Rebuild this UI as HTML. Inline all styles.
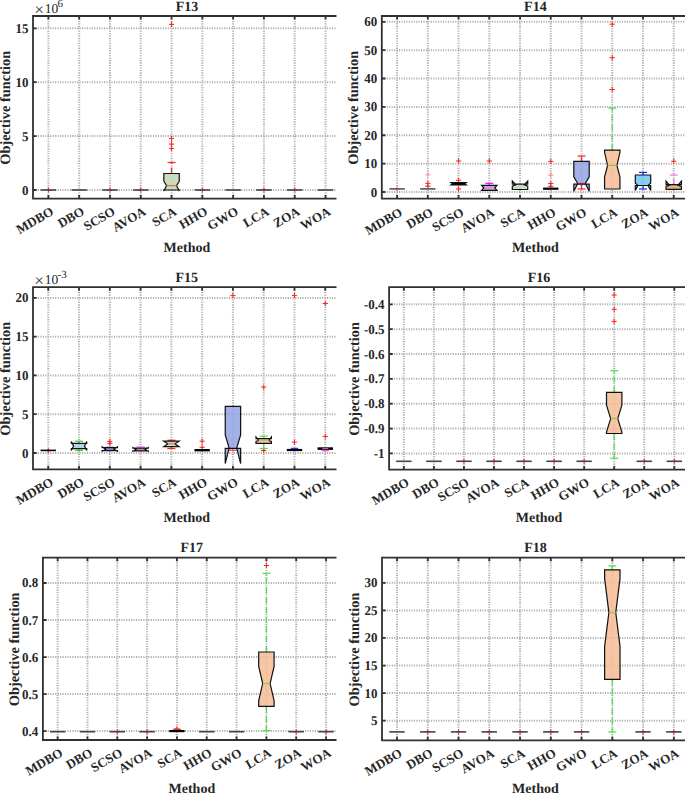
<!DOCTYPE html>
<html><head><meta charset="utf-8"><style>
html,body{margin:0;padding:0;background:#fff;}
svg{display:block;}
text{font-family:"Liberation Serif", serif;fill:#262626;text-rendering:geometricPrecision;}
</style></head><body>
<svg width="685" height="793" viewBox="0 0 685 793">
<rect width="685" height="793" fill="#fff"/>
<path d="M48.4 16V198.6M79.19 16V198.6M109.98 16V198.6M140.77 16V198.6M171.56 16V198.6M202.35 16V198.6M233.14 16V198.6M263.93 16V198.6M294.72 16V198.6M325.51 16V198.6M33 190H335.6M33 136.1H335.6M33 82.2H335.6M33 28.3H335.6" stroke="#acacac" stroke-width="2" stroke-dasharray="1.1 1.35" fill="none"/>
<path d="M45.8 190H51M48.4 187.4V192.6" stroke="#ff2020" stroke-width="1.0" fill="none"/>
<path d="M40.7 190H56.1" stroke="#454545" stroke-width="1.6" fill="none"/>
<path d="M71.49 190H86.89" stroke="#454545" stroke-width="1.6" fill="none"/>
<path d="M107.38 190H112.58M109.98 187.4V192.6" stroke="#ff2020" stroke-width="1.0" fill="none"/>
<path d="M102.28 190H117.68" stroke="#454545" stroke-width="1.6" fill="none"/>
<path d="M138.17 190H143.37M140.77 187.4V192.6" stroke="#ff2020" stroke-width="1.0" fill="none"/>
<path d="M133.07 190H148.47" stroke="#454545" stroke-width="1.6" fill="none"/>
<path d="M168.96 148.4H174.16M171.56 145.8V151" stroke="#ff2020" stroke-width="1.0" fill="none"/>
<path d="M168.96 144.1H174.16M171.56 141.5V146.7" stroke="#ff2020" stroke-width="1.0" fill="none"/>
<path d="M168.96 138.4H174.16M171.56 135.8V141" stroke="#ff2020" stroke-width="1.0" fill="none"/>
<path d="M168.96 24.4H174.16M171.56 21.8V27" stroke="#ff2020" stroke-width="1.0" fill="none"/>
<path d="M171.56 173.5V162.5" stroke="#ff2020" stroke-width="1.2" stroke-dasharray="6 3.7" fill="none"/>
<path d="M167.56 162.5H175.56" stroke="#ff2020" stroke-width="1.2" fill="none"/>
<path d="M163.86 190L163.86 190.9L166.56 185.6L163.86 181.2L163.86 173.5L179.26 173.5L179.26 181.2L176.56 185.6L179.26 190.9L179.26 190Z" fill="#bdd9b3" fill-opacity="0.85" stroke="#111" stroke-width="1.2" stroke-linejoin="miter"/>
<path d="M166.56 185.6H176.56" stroke="#e07040" stroke-width="1.2" fill="none"/>
<path d="M199.75 190H204.95M202.35 187.4V192.6" stroke="#ff2020" stroke-width="1.0" fill="none"/>
<path d="M194.65 190H210.05" stroke="#454545" stroke-width="1.6" fill="none"/>
<path d="M225.44 190H240.84" stroke="#454545" stroke-width="1.6" fill="none"/>
<path d="M261.33 190H266.53M263.93 187.4V192.6" stroke="#ff2020" stroke-width="1.0" fill="none"/>
<path d="M256.23 190H271.63" stroke="#454545" stroke-width="1.6" fill="none"/>
<path d="M292.12 190H297.32M294.72 187.4V192.6" stroke="#ff2020" stroke-width="1.0" fill="none"/>
<path d="M287.02 190H302.42" stroke="#454545" stroke-width="1.6" fill="none"/>
<path d="M317.81 190H333.21" stroke="#454545" stroke-width="1.6" fill="none"/>
<path d="M335.6 16H33V198.6H335.6" stroke="#303030" stroke-width="1.8" fill="none" stroke-linecap="square"/>
<path d="M48.4 16v3.6M48.4 198.6v-3.6M79.19 16v3.6M79.19 198.6v-3.6M109.98 16v3.6M109.98 198.6v-3.6M140.77 16v3.6M140.77 198.6v-3.6M171.56 16v3.6M171.56 198.6v-3.6M202.35 16v3.6M202.35 198.6v-3.6M233.14 16v3.6M233.14 198.6v-3.6M263.93 16v3.6M263.93 198.6v-3.6M294.72 16v3.6M294.72 198.6v-3.6M325.51 16v3.6M325.51 198.6v-3.6M33 190h3.6M33 136.1h3.6M33 82.2h3.6M33 28.3h3.6" stroke="#303030" stroke-width="1.8" fill="none"/>
<text transform="translate(28.4 194.5) scale(0.96 1)" text-anchor="end" font-size="13.5" font-weight="bold">0</text>
<text transform="translate(28.4 140.6) scale(0.96 1)" text-anchor="end" font-size="13.5" font-weight="bold">5</text>
<text transform="translate(28.4 86.7) scale(0.96 1)" text-anchor="end" font-size="13.5" font-weight="bold">10</text>
<text transform="translate(28.4 32.8) scale(0.96 1)" text-anchor="end" font-size="13.5" font-weight="bold">15</text>
<text x="186.96" y="10.6" text-anchor="middle" font-size="14" font-weight="bold">F13</text>
<text x="34.6" y="14.6" font-size="16.5">×</text>
<text x="44.7" y="12.8" font-size="13.5">10</text>
<text x="57.6" y="6.6" font-size="11">6</text>
<text transform="translate(9.8 107.8) rotate(-90)" text-anchor="middle" font-size="14.4" font-weight="bold">Objective function</text>
<text transform="translate(54.5 214) rotate(-30)" text-anchor="end" font-size="13" font-weight="bold">MDBO</text>
<text transform="translate(85.29 214) rotate(-30)" text-anchor="end" font-size="13" font-weight="bold">DBO</text>
<text transform="translate(116.08 214) rotate(-30)" text-anchor="end" font-size="13" font-weight="bold">SCSO</text>
<text transform="translate(146.87 214) rotate(-30)" text-anchor="end" font-size="13" font-weight="bold">AVOA</text>
<text transform="translate(177.66 214) rotate(-30)" text-anchor="end" font-size="13" font-weight="bold">SCA</text>
<text transform="translate(208.45 214) rotate(-30)" text-anchor="end" font-size="13" font-weight="bold">HHO</text>
<text transform="translate(239.24 214) rotate(-30)" text-anchor="end" font-size="13" font-weight="bold">GWO</text>
<text transform="translate(270.03 214) rotate(-30)" text-anchor="end" font-size="13" font-weight="bold">LCA</text>
<text transform="translate(300.82 214) rotate(-30)" text-anchor="end" font-size="13" font-weight="bold">ZOA</text>
<text transform="translate(331.61 214) rotate(-30)" text-anchor="end" font-size="13" font-weight="bold">WOA</text>
<text x="186.96" y="252" text-anchor="middle" font-size="14" font-weight="bold">Method</text>
<path d="M397.07 16V198.6M427.81 16V198.6M458.55 16V198.6M489.29 16V198.6M520.03 16V198.6M550.77 16V198.6M581.51 16V198.6M612.25 16V198.6M642.99 16V198.6M673.73 16V198.6M381.8 192H685M381.8 163.63H685M381.8 135.26H685M381.8 106.89H685M381.8 78.52H685M381.8 50.15H685M381.8 21.78H685" stroke="#acacac" stroke-width="2" stroke-dasharray="1.1 1.35" fill="none"/>
<path d="M394.47 188.9H399.67M397.07 186.3V191.5" stroke="#ff8080" stroke-width="1.0" fill="none"/>
<path d="M389.37 188.9H404.77" stroke="#555" stroke-width="1.6" fill="none"/>
<path d="M425.21 183.3H430.41M427.81 180.7V185.9" stroke="#ff2020" stroke-width="1.0" fill="none"/>
<path d="M425.21 186.2H430.41M427.81 183.6V188.8" stroke="#ff2020" stroke-width="1.0" fill="none"/>
<path d="M420.11 188.9H435.51" stroke="#555" stroke-width="1.6" fill="none"/>
<path d="M425.21 174.9H430.41M427.81 172.3V177.5" stroke="#ff9a9a" stroke-width="1.0" fill="none"/>
<path d="M455.95 161H461.15M458.55 158.4V163.6" stroke="#ff2020" stroke-width="1.0" fill="none"/>
<path d="M455.95 180.3H461.15M458.55 177.7V182.9" stroke="#ff2020" stroke-width="1.0" fill="none"/>
<path d="M455.95 189H461.15M458.55 186.4V191.6" stroke="#ff2020" stroke-width="1.0" fill="none"/>
<path d="M450.85 185L450.85 185L452.55 183.8L450.85 182.5L450.85 182.5L466.25 182.5L466.25 182.5L464.55 183.8L466.25 185L466.25 185Z" fill="#000" fill-opacity="1" stroke="#111" stroke-width="1.2" stroke-linejoin="miter"/>
<path d="M486.69 161H491.89M489.29 158.4V163.6" stroke="#ff2020" stroke-width="1.0" fill="none"/>
<path d="M489.29 185.3V183.3" stroke="#ff00ff" stroke-width="1.2" stroke-dasharray="6 3.7" fill="none"/>
<path d="M485.29 183.3H493.29" stroke="#ff00ff" stroke-width="1.2" fill="none"/>
<path d="M481.59 190.4L481.59 190.4L483.79 187.8L481.59 185.3L481.59 185.3L496.99 185.3L496.99 185.3L494.79 187.8L496.99 190.4L496.99 190.4Z" fill="#c890d8" fill-opacity="0.85" stroke="#111" stroke-width="1.2" stroke-linejoin="miter"/>
<path d="M512.33 189.5L512.33 186.2L515.83 184.8L512.33 181.1L512.33 184.2L527.73 184.2L527.73 181.1L524.23 184.8L527.73 186.2L527.73 189.5Z" fill="#bdd9b3" fill-opacity="0.85" stroke="#111" stroke-width="1.2" stroke-linejoin="miter"/>
<path d="M548.17 161.4H553.37M550.77 158.8V164" stroke="#ff2020" stroke-width="1.0" fill="none"/>
<path d="M548.17 183.5H553.37M550.77 180.9V186.1" stroke="#ff2020" stroke-width="1.0" fill="none"/>
<path d="M548.17 186.4H553.37M550.77 183.8V189" stroke="#ff2020" stroke-width="1.0" fill="none"/>
<path d="M543.07 188.7H558.47" stroke="#000" stroke-width="2.2" fill="none"/>
<path d="M548.17 175.2H553.37M550.77 172.6V177.8" stroke="#ff8a8a" stroke-width="1.0" fill="none"/>
<path d="M581.51 161.3V156" stroke="#ff2020" stroke-width="1.2" stroke-dasharray="6 3.7" fill="none"/>
<path d="M577.51 156H585.51" stroke="#ff2020" stroke-width="1.2" fill="none"/>
<path d="M581.51 184.2V189" stroke="#ff2020" stroke-width="1.2" stroke-dasharray="6 3.7" fill="none"/>
<path d="M577.51 189H585.51" stroke="#ff2020" stroke-width="1.2" fill="none"/>
<path d="M573.81 184.2L573.81 191.2L577.71 183.5L573.81 176.8L573.81 161.3L589.21 161.3L589.21 176.8L585.31 183.5L589.21 191.2L589.21 184.2Z" fill="#92a4e2" fill-opacity="0.85" stroke="#111" stroke-width="1.2" stroke-linejoin="miter"/>
<path d="M577.71 183.5H585.31" stroke="#7e2f5e" stroke-width="1.2" fill="none"/>
<path d="M609.65 24.2H614.85M612.25 21.6V26.8" stroke="#ff2020" stroke-width="1.0" fill="none"/>
<path d="M609.65 57.7H614.85M612.25 55.1V60.3" stroke="#ff2020" stroke-width="1.0" fill="none"/>
<path d="M609.65 89.5H614.85M612.25 86.9V92.1" stroke="#ff2020" stroke-width="1.0" fill="none"/>
<path d="M612.25 150.1V108.1" stroke="#48e048" stroke-width="1.2" stroke-dasharray="6 3.7" fill="none"/>
<path d="M608.25 108.1H616.25" stroke="#48e048" stroke-width="1.2" fill="none"/>
<path d="M604.55 189L604.55 177.2L607.55 165.4L604.55 152.3L604.55 150.1L619.95 150.1L619.95 152.3L616.95 165.4L619.95 177.2L619.95 189Z" fill="#f6bc95" fill-opacity="0.85" stroke="#111" stroke-width="1.2" stroke-linejoin="miter"/>
<path d="M607.55 165.4H616.95" stroke="#a0c040" stroke-width="1.2" fill="none"/>
<path d="M642.99 175V172.4" stroke="#2020ff" stroke-width="1.2" stroke-dasharray="6 3.7" fill="none"/>
<path d="M638.99 172.4H646.99" stroke="#2020ff" stroke-width="1.2" fill="none"/>
<path d="M642.99 185.5V189" stroke="#2020ff" stroke-width="1.2" stroke-dasharray="6 3.7" fill="none"/>
<path d="M638.99 189H646.99" stroke="#2020ff" stroke-width="1.2" fill="none"/>
<path d="M635.29 185.5L635.29 190.4L637.89 185.5L635.29 182.9L635.29 175L650.69 175L650.69 182.9L648.09 185.5L650.69 190.4L650.69 185.5Z" fill="#6dc6f1" fill-opacity="0.85" stroke="#111" stroke-width="1.2" stroke-linejoin="miter"/>
<path d="M671.13 161.3H676.33M673.73 158.7V163.9" stroke="#ff2020" stroke-width="1.0" fill="none"/>
<path d="M673.73 184.6V175" stroke="#f070f0" stroke-width="1.2" stroke-dasharray="6 3.7" fill="none"/>
<path d="M669.73 175H677.73" stroke="#f070f0" stroke-width="1.2" fill="none"/>
<path d="M666.03 189.3L666.03 186.4L669.53 185.2L666.03 181.2L666.03 184.6L681.43 184.6L681.43 181.2L677.93 185.2L681.43 186.4L681.43 189.3Z" fill="#dea170" fill-opacity="0.85" stroke="#111" stroke-width="1.2" stroke-linejoin="miter"/>
<path d="M685 16H381.8V198.6H685" stroke="#303030" stroke-width="1.8" fill="none" stroke-linecap="square"/>
<path d="M397.07 16v3.6M397.07 198.6v-3.6M427.81 16v3.6M427.81 198.6v-3.6M458.55 16v3.6M458.55 198.6v-3.6M489.29 16v3.6M489.29 198.6v-3.6M520.03 16v3.6M520.03 198.6v-3.6M550.77 16v3.6M550.77 198.6v-3.6M581.51 16v3.6M581.51 198.6v-3.6M612.25 16v3.6M612.25 198.6v-3.6M642.99 16v3.6M642.99 198.6v-3.6M673.73 16v3.6M673.73 198.6v-3.6M381.8 192h3.6M381.8 163.63h3.6M381.8 135.26h3.6M381.8 106.89h3.6M381.8 78.52h3.6M381.8 50.15h3.6M381.8 21.78h3.6" stroke="#303030" stroke-width="1.8" fill="none"/>
<text transform="translate(377.2 196.5) scale(0.96 1)" text-anchor="end" font-size="13.5" font-weight="bold">0</text>
<text transform="translate(377.2 168.13) scale(0.96 1)" text-anchor="end" font-size="13.5" font-weight="bold">10</text>
<text transform="translate(377.2 139.76) scale(0.96 1)" text-anchor="end" font-size="13.5" font-weight="bold">20</text>
<text transform="translate(377.2 111.39) scale(0.96 1)" text-anchor="end" font-size="13.5" font-weight="bold">30</text>
<text transform="translate(377.2 83.02) scale(0.96 1)" text-anchor="end" font-size="13.5" font-weight="bold">40</text>
<text transform="translate(377.2 54.65) scale(0.96 1)" text-anchor="end" font-size="13.5" font-weight="bold">50</text>
<text transform="translate(377.2 26.28) scale(0.96 1)" text-anchor="end" font-size="13.5" font-weight="bold">60</text>
<text x="535.4" y="10.6" text-anchor="middle" font-size="14" font-weight="bold">F14</text>
<text transform="translate(358.1 107.8) rotate(-90)" text-anchor="middle" font-size="14.4" font-weight="bold">Objective function</text>
<text transform="translate(403.17 214.9) rotate(-30)" text-anchor="end" font-size="13" font-weight="bold">MDBO</text>
<text transform="translate(433.91 214.9) rotate(-30)" text-anchor="end" font-size="13" font-weight="bold">DBO</text>
<text transform="translate(464.65 214.9) rotate(-30)" text-anchor="end" font-size="13" font-weight="bold">SCSO</text>
<text transform="translate(495.39 214.9) rotate(-30)" text-anchor="end" font-size="13" font-weight="bold">AVOA</text>
<text transform="translate(526.13 214.9) rotate(-30)" text-anchor="end" font-size="13" font-weight="bold">SCA</text>
<text transform="translate(556.87 214.9) rotate(-30)" text-anchor="end" font-size="13" font-weight="bold">HHO</text>
<text transform="translate(587.61 214.9) rotate(-30)" text-anchor="end" font-size="13" font-weight="bold">GWO</text>
<text transform="translate(618.35 214.9) rotate(-30)" text-anchor="end" font-size="13" font-weight="bold">LCA</text>
<text transform="translate(649.09 214.9) rotate(-30)" text-anchor="end" font-size="13" font-weight="bold">ZOA</text>
<text transform="translate(679.83 214.9) rotate(-30)" text-anchor="end" font-size="13" font-weight="bold">WOA</text>
<text x="535.4" y="252" text-anchor="middle" font-size="14" font-weight="bold">Method</text>
<path d="M48.25 287.2V469.3M79.03 287.2V469.3M109.81 287.2V469.3M140.59 287.2V469.3M171.37 287.2V469.3M202.15 287.2V469.3M232.93 287.2V469.3M263.71 287.2V469.3M294.49 287.2V469.3M325.27 287.2V469.3M33 453H335.6M33 414.22H335.6M33 375.44H335.6M33 336.66H335.6M33 297.88H335.6" stroke="#acacac" stroke-width="2" stroke-dasharray="1.1 1.35" fill="none"/>
<path d="M45.65 450.4H50.85M48.25 447.8V453" stroke="#ff2020" stroke-width="1.0" fill="none"/>
<path d="M40.55 450.4H55.95" stroke="#000" stroke-width="1.6" fill="none"/>
<path d="M79.03 443.3V441.2" stroke="#20e020" stroke-width="1.2" stroke-dasharray="6 3.7" fill="none"/>
<path d="M75.03 441.2H83.03" stroke="#20e020" stroke-width="1.2" fill="none"/>
<path d="M79.03 448.6V450.4" stroke="#20e020" stroke-width="1.2" stroke-dasharray="6 3.7" fill="none"/>
<path d="M75.03 450.4H83.03" stroke="#20e020" stroke-width="1.2" fill="none"/>
<path d="M71.33 448.6L71.33 450.4L73.53 446L71.33 441.5L71.33 443.3L86.73 443.3L86.73 441.5L84.53 446L86.73 450.4L86.73 448.6Z" fill="#a8cce0" fill-opacity="0.85" stroke="#111" stroke-width="1.2" stroke-linejoin="miter"/>
<path d="M107.21 441.4H112.41M109.81 438.8V444" stroke="#ff2020" stroke-width="1.0" fill="none"/>
<path d="M107.21 443.4H112.41M109.81 440.8V446" stroke="#ff2020" stroke-width="1.0" fill="none"/>
<path d="M105.81 447.4H113.81" stroke="#2020a0" stroke-width="1.3" fill="none"/>
<path d="M102.11 450.6L102.11 451.3L105.81 449.3L102.11 446.8L102.11 447.6L117.51 447.6L117.51 446.8L113.81 449.3L117.51 451.3L117.51 450.6Z" fill="#9080f0" fill-opacity="1" stroke="#111" stroke-width="1.2" stroke-linejoin="miter"/>
<path d="M136.59 446.9H144.59" stroke="#ff70ff" stroke-width="1.3" fill="none"/>
<path d="M132.89 450.8L132.89 451.2L136.09 449.5L132.89 447.6L132.89 448.2L148.29 448.2L148.29 447.6L145.09 449.5L148.29 451.2L148.29 450.8Z" fill="#c080c0" fill-opacity="1" stroke="#111" stroke-width="1.2" stroke-linejoin="miter"/>
<path d="M171.37 441.2V440.3" stroke="#ff2020" stroke-width="1.2" stroke-dasharray="6 3.7" fill="none"/>
<path d="M167.37 440.3H175.37" stroke="#ff2020" stroke-width="1.2" fill="none"/>
<path d="M171.37 446.7V448.5" stroke="#ff2020" stroke-width="1.2" stroke-dasharray="6 3.7" fill="none"/>
<path d="M167.37 448.5H175.37" stroke="#ff2020" stroke-width="1.2" fill="none"/>
<path d="M163.67 446.7L163.67 446.7L167.87 443.8L163.67 441.2L163.67 441.2L179.07 441.2L179.07 441.2L174.87 443.8L179.07 446.7L179.07 446.7Z" fill="#bdd9b3" fill-opacity="0.85" stroke="#111" stroke-width="1.2" stroke-linejoin="miter"/>
<path d="M167.87 443.8H174.87" stroke="#e08050" stroke-width="1.2" fill="none"/>
<path d="M199.55 441.2H204.75M202.15 438.6V443.8" stroke="#ff2020" stroke-width="1.0" fill="none"/>
<path d="M199.55 447.3H204.75M202.15 444.7V449.9" stroke="#ff2020" stroke-width="1.0" fill="none"/>
<path d="M194.45 450.2H209.85" stroke="#000" stroke-width="2.4" fill="none"/>
<path d="M230.33 295.6H235.53M232.93 293V298.2" stroke="#ff2020" stroke-width="1.0" fill="none"/>
<path d="M228.93 450.2H236.93" stroke="#ff4040" stroke-width="1.3" fill="none"/>
<path d="M225.23 448.4L225.23 463.5L229.13 448.1L225.23 434.9L225.23 406.4L240.63 406.4L240.63 434.9L236.73 448.1L240.63 463.5L240.63 448.4Z" fill="#92a4e2" fill-opacity="0.85" stroke="#111" stroke-width="1.2" stroke-linejoin="miter"/>
<path d="M261.11 450.5H266.31M263.71 447.9V453.1" stroke="#ff2020" stroke-width="1.0" fill="none"/>
<path d="M261.11 387.1H266.31M263.71 384.5V389.7" stroke="#ff2020" stroke-width="1.0" fill="none"/>
<path d="M263.71 438.6V436.2" stroke="#48e048" stroke-width="1.2" stroke-dasharray="6 3.7" fill="none"/>
<path d="M259.71 436.2H267.71" stroke="#48e048" stroke-width="1.2" fill="none"/>
<path d="M263.71 443.3V448.5" stroke="#48e048" stroke-width="1.2" stroke-dasharray="6 3.7" fill="none"/>
<path d="M259.71 448.5H267.71" stroke="#48e048" stroke-width="1.2" fill="none"/>
<path d="M256.01 443.3L256.01 441.4L258.71 440.4L256.01 436.9L256.01 438.6L271.41 438.6L271.41 436.9L268.71 440.4L271.41 441.4L271.41 443.3Z" fill="#f6bc95" fill-opacity="0.85" stroke="#111" stroke-width="1.2" stroke-linejoin="miter"/>
<path d="M258.71 440.4H268.71" stroke="#c8c060" stroke-width="1.2" fill="none"/>
<path d="M291.89 295.6H297.09M294.49 293V298.2" stroke="#ff2020" stroke-width="1.0" fill="none"/>
<path d="M291.89 442.1H297.09M294.49 439.5V444.7" stroke="#ff2020" stroke-width="1.0" fill="none"/>
<path d="M290.89 448.4H298.09" stroke="#3030ff" stroke-width="1.3" fill="none"/>
<path d="M286.79 450H302.19" stroke="#000" stroke-width="2.2" fill="none"/>
<path d="M322.67 303.5H327.87M325.27 300.9V306.1" stroke="#ff2020" stroke-width="1.0" fill="none"/>
<path d="M322.67 436.4H327.87M325.27 433.8V439" stroke="#ff2020" stroke-width="1.0" fill="none"/>
<path d="M321.67 450.6H328.87" stroke="#ff40ff" stroke-width="1.3" fill="none"/>
<path d="M317.57 448.6H332.97" stroke="#000" stroke-width="2.6" fill="none"/>
<path d="M322.27 448.6H328.27" stroke="#c06090" stroke-width="1.3" fill="none"/>
<path d="M335.6 287.2H33V469.3H335.6" stroke="#303030" stroke-width="1.8" fill="none" stroke-linecap="square"/>
<path d="M48.25 287.2v3.6M48.25 469.3v-3.6M79.03 287.2v3.6M79.03 469.3v-3.6M109.81 287.2v3.6M109.81 469.3v-3.6M140.59 287.2v3.6M140.59 469.3v-3.6M171.37 287.2v3.6M171.37 469.3v-3.6M202.15 287.2v3.6M202.15 469.3v-3.6M232.93 287.2v3.6M232.93 469.3v-3.6M263.71 287.2v3.6M263.71 469.3v-3.6M294.49 287.2v3.6M294.49 469.3v-3.6M325.27 287.2v3.6M325.27 469.3v-3.6M33 453h3.6M33 414.22h3.6M33 375.44h3.6M33 336.66h3.6M33 297.88h3.6" stroke="#303030" stroke-width="1.8" fill="none"/>
<text transform="translate(28.4 457.5) scale(0.96 1)" text-anchor="end" font-size="13.5" font-weight="bold">0</text>
<text transform="translate(28.4 418.72) scale(0.96 1)" text-anchor="end" font-size="13.5" font-weight="bold">5</text>
<text transform="translate(28.4 379.94) scale(0.96 1)" text-anchor="end" font-size="13.5" font-weight="bold">10</text>
<text transform="translate(28.4 341.16) scale(0.96 1)" text-anchor="end" font-size="13.5" font-weight="bold">15</text>
<text transform="translate(28.4 302.38) scale(0.96 1)" text-anchor="end" font-size="13.5" font-weight="bold">20</text>
<text x="186.76" y="281.8" text-anchor="middle" font-size="14" font-weight="bold">F15</text>
<text x="34.6" y="285.8" font-size="16.5">×</text>
<text x="44.7" y="284" font-size="13.5">10</text>
<text x="57.6" y="277.8" font-size="11">-3</text>
<text transform="translate(9.8 378.75) rotate(-90)" text-anchor="middle" font-size="14.4" font-weight="bold">Objective function</text>
<text transform="translate(54.35 484.7) rotate(-30)" text-anchor="end" font-size="13" font-weight="bold">MDBO</text>
<text transform="translate(85.13 484.7) rotate(-30)" text-anchor="end" font-size="13" font-weight="bold">DBO</text>
<text transform="translate(115.91 484.7) rotate(-30)" text-anchor="end" font-size="13" font-weight="bold">SCSO</text>
<text transform="translate(146.69 484.7) rotate(-30)" text-anchor="end" font-size="13" font-weight="bold">AVOA</text>
<text transform="translate(177.47 484.7) rotate(-30)" text-anchor="end" font-size="13" font-weight="bold">SCA</text>
<text transform="translate(208.25 484.7) rotate(-30)" text-anchor="end" font-size="13" font-weight="bold">HHO</text>
<text transform="translate(239.03 484.7) rotate(-30)" text-anchor="end" font-size="13" font-weight="bold">GWO</text>
<text transform="translate(269.81 484.7) rotate(-30)" text-anchor="end" font-size="13" font-weight="bold">LCA</text>
<text transform="translate(300.59 484.7) rotate(-30)" text-anchor="end" font-size="13" font-weight="bold">ZOA</text>
<text transform="translate(331.37 484.7) rotate(-30)" text-anchor="end" font-size="13" font-weight="bold">WOA</text>
<text x="186.76" y="522" text-anchor="middle" font-size="14" font-weight="bold">Method</text>
<path d="M403.85 287.2V469.6M433.9 287.2V469.6M463.95 287.2V469.6M494 287.2V469.6M524.05 287.2V469.6M554.1 287.2V469.6M584.15 287.2V469.6M614.2 287.2V469.6M644.25 287.2V469.6M674.3 287.2V469.6M389.1 453.4H685M389.1 428.55H685M389.1 403.7H685M389.1 378.85H685M389.1 354H685M389.1 329.15H685M389.1 304.3H685" stroke="#acacac" stroke-width="2" stroke-dasharray="1.1 1.35" fill="none"/>
<path d="M396.15 461.3H411.55" stroke="#454545" stroke-width="1.6" fill="none"/>
<path d="M426.2 461.3H441.6" stroke="#454545" stroke-width="1.6" fill="none"/>
<path d="M461.35 461.3H466.55M463.95 458.7V463.9" stroke="#ff2020" stroke-width="1.0" fill="none"/>
<path d="M456.25 461.3H471.65" stroke="#454545" stroke-width="1.6" fill="none"/>
<path d="M491.4 461.3H496.6M494 458.7V463.9" stroke="#ff2020" stroke-width="1.0" fill="none"/>
<path d="M486.3 461.3H501.7" stroke="#454545" stroke-width="1.6" fill="none"/>
<path d="M521.45 461.3H526.65M524.05 458.7V463.9" stroke="#ff2020" stroke-width="1.0" fill="none"/>
<path d="M516.35 461.3H531.75" stroke="#454545" stroke-width="1.6" fill="none"/>
<path d="M551.5 461.3H556.7M554.1 458.7V463.9" stroke="#ff2020" stroke-width="1.0" fill="none"/>
<path d="M546.4 461.3H561.8" stroke="#454545" stroke-width="1.6" fill="none"/>
<path d="M581.55 461.3H586.75M584.15 458.7V463.9" stroke="#ff2020" stroke-width="1.0" fill="none"/>
<path d="M576.45 461.3H591.85" stroke="#454545" stroke-width="1.6" fill="none"/>
<path d="M641.65 461.3H646.85M644.25 458.7V463.9" stroke="#ff2020" stroke-width="1.0" fill="none"/>
<path d="M636.55 461.3H651.95" stroke="#454545" stroke-width="1.6" fill="none"/>
<path d="M671.7 461.3H676.9M674.3 458.7V463.9" stroke="#ff2020" stroke-width="1.0" fill="none"/>
<path d="M666.6 461.3H682" stroke="#454545" stroke-width="1.6" fill="none"/>
<path d="M611.6 295H616.8M614.2 292.4V297.6" stroke="#ff2020" stroke-width="1.0" fill="none"/>
<path d="M611.6 309.3H616.8M614.2 306.7V311.9" stroke="#ff2020" stroke-width="1.0" fill="none"/>
<path d="M611.6 321.4H616.8M614.2 318.8V324" stroke="#ff2020" stroke-width="1.0" fill="none"/>
<path d="M614.2 392.3V370.7" stroke="#48e048" stroke-width="1.2" stroke-dasharray="6 3.7" fill="none"/>
<path d="M610.2 370.7H618.2" stroke="#48e048" stroke-width="1.2" fill="none"/>
<path d="M614.2 433.5V458.2" stroke="#48e048" stroke-width="1.2" stroke-dasharray="6 3.7" fill="none"/>
<path d="M610.2 458.2H618.2" stroke="#48e048" stroke-width="1.2" fill="none"/>
<path d="M606.5 433.5L606.5 432.1L610.65 418.6L606.5 405.1L606.5 392.3L621.9 392.3L621.9 405.1L617.75 418.6L621.9 432.1L621.9 433.5Z" fill="#f6bc95" fill-opacity="0.85" stroke="#111" stroke-width="1.2" stroke-linejoin="miter"/>
<path d="M610.65 418.6H617.75" stroke="#a0c040" stroke-width="1.2" fill="none"/>
<path d="M685 287.2H389.1V469.6H685" stroke="#303030" stroke-width="1.8" fill="none" stroke-linecap="square"/>
<path d="M403.85 287.2v3.6M403.85 469.6v-3.6M433.9 287.2v3.6M433.9 469.6v-3.6M463.95 287.2v3.6M463.95 469.6v-3.6M494 287.2v3.6M494 469.6v-3.6M524.05 287.2v3.6M524.05 469.6v-3.6M554.1 287.2v3.6M554.1 469.6v-3.6M584.15 287.2v3.6M584.15 469.6v-3.6M614.2 287.2v3.6M614.2 469.6v-3.6M644.25 287.2v3.6M644.25 469.6v-3.6M674.3 287.2v3.6M674.3 469.6v-3.6M389.1 453.4h3.6M389.1 428.55h3.6M389.1 403.7h3.6M389.1 378.85h3.6M389.1 354h3.6M389.1 329.15h3.6M389.1 304.3h3.6" stroke="#303030" stroke-width="1.8" fill="none"/>
<text transform="translate(384.5 457.9) scale(0.96 1)" text-anchor="end" font-size="13.5" font-weight="bold">-1</text>
<text transform="translate(384.5 433.05) scale(0.96 1)" text-anchor="end" font-size="13.5" font-weight="bold">-0.9</text>
<text transform="translate(384.5 408.2) scale(0.96 1)" text-anchor="end" font-size="13.5" font-weight="bold">-0.8</text>
<text transform="translate(384.5 383.35) scale(0.96 1)" text-anchor="end" font-size="13.5" font-weight="bold">-0.7</text>
<text transform="translate(384.5 358.5) scale(0.96 1)" text-anchor="end" font-size="13.5" font-weight="bold">-0.6</text>
<text transform="translate(384.5 333.65) scale(0.96 1)" text-anchor="end" font-size="13.5" font-weight="bold">-0.5</text>
<text transform="translate(384.5 308.8) scale(0.96 1)" text-anchor="end" font-size="13.5" font-weight="bold">-0.4</text>
<text x="539.08" y="281.8" text-anchor="middle" font-size="14" font-weight="bold">F16</text>
<text transform="translate(358.5 378.9) rotate(-90)" text-anchor="middle" font-size="14.4" font-weight="bold">Objective function</text>
<text transform="translate(409.95 485) rotate(-30)" text-anchor="end" font-size="13" font-weight="bold">MDBO</text>
<text transform="translate(440 485) rotate(-30)" text-anchor="end" font-size="13" font-weight="bold">DBO</text>
<text transform="translate(470.05 485) rotate(-30)" text-anchor="end" font-size="13" font-weight="bold">SCSO</text>
<text transform="translate(500.1 485) rotate(-30)" text-anchor="end" font-size="13" font-weight="bold">AVOA</text>
<text transform="translate(530.15 485) rotate(-30)" text-anchor="end" font-size="13" font-weight="bold">SCA</text>
<text transform="translate(560.2 485) rotate(-30)" text-anchor="end" font-size="13" font-weight="bold">HHO</text>
<text transform="translate(590.25 485) rotate(-30)" text-anchor="end" font-size="13" font-weight="bold">GWO</text>
<text transform="translate(620.3 485) rotate(-30)" text-anchor="end" font-size="13" font-weight="bold">LCA</text>
<text transform="translate(650.35 485) rotate(-30)" text-anchor="end" font-size="13" font-weight="bold">ZOA</text>
<text transform="translate(680.4 485) rotate(-30)" text-anchor="end" font-size="13" font-weight="bold">WOA</text>
<text x="539.08" y="522" text-anchor="middle" font-size="14" font-weight="bold">Method</text>
<path d="M57.65 557.7V740M87.47 557.7V740M117.29 557.7V740M147.11 557.7V740M176.93 557.7V740M206.75 557.7V740M236.57 557.7V740M266.39 557.7V740M296.21 557.7V740M326.03 557.7V740M42.9 731.1H335.6M42.9 694.07H335.6M42.9 657.04H335.6M42.9 620.01H335.6M42.9 582.98H335.6" stroke="#acacac" stroke-width="2" stroke-dasharray="1.1 1.35" fill="none"/>
<path d="M49.95 731.7H65.35" stroke="#454545" stroke-width="1.6" fill="none"/>
<path d="M79.77 731.7H95.17" stroke="#454545" stroke-width="1.6" fill="none"/>
<path d="M114.69 731.7H119.89M117.29 729.1V734.3" stroke="#ff2020" stroke-width="1.0" fill="none"/>
<path d="M109.59 731.7H124.99" stroke="#454545" stroke-width="1.6" fill="none"/>
<path d="M144.51 731.7H149.71M147.11 729.1V734.3" stroke="#ff2020" stroke-width="1.0" fill="none"/>
<path d="M139.41 731.7H154.81" stroke="#454545" stroke-width="1.6" fill="none"/>
<path d="M199.05 731.7H214.45" stroke="#454545" stroke-width="1.6" fill="none"/>
<path d="M228.87 731.7H244.27" stroke="#454545" stroke-width="1.6" fill="none"/>
<path d="M293.61 731.7H298.81M296.21 729.1V734.3" stroke="#ff2020" stroke-width="1.0" fill="none"/>
<path d="M288.51 731.7H303.91" stroke="#454545" stroke-width="1.6" fill="none"/>
<path d="M323.43 731.7H328.63M326.03 729.1V734.3" stroke="#ff2020" stroke-width="1.0" fill="none"/>
<path d="M318.33 731.7H333.73" stroke="#454545" stroke-width="1.6" fill="none"/>
<path d="M174.33 729H179.53M176.93 726.4V731.6" stroke="#ff2020" stroke-width="1.0" fill="none"/>
<path d="M173.43 729.2H180.43" stroke="#ff2020" stroke-width="1.3" fill="none"/>
<path d="M172.73 730H181.13" stroke="#ff2020" stroke-width="1.3" fill="none"/>
<path d="M169.23 731.1H184.63" stroke="#000" stroke-width="2.2" fill="none"/>
<path d="M263.79 565.5H268.99M266.39 562.9V568.1" stroke="#ff2020" stroke-width="1.0" fill="none"/>
<path d="M266.39 652V573.3" stroke="#48e048" stroke-width="1.2" stroke-dasharray="6 3.7" fill="none"/>
<path d="M262.39 573.3H270.39" stroke="#48e048" stroke-width="1.2" fill="none"/>
<path d="M266.39 706.3V730.7" stroke="#48e048" stroke-width="1.2" stroke-dasharray="6 3.7" fill="none"/>
<path d="M262.39 730.7H270.39" stroke="#48e048" stroke-width="1.2" fill="none"/>
<path d="M258.69 706.3L258.69 700.6L262.69 683.6L258.69 666.5L258.69 652L274.09 652L274.09 666.5L270.09 683.6L274.09 700.6L274.09 706.3Z" fill="#f6bc95" fill-opacity="0.85" stroke="#111" stroke-width="1.2" stroke-linejoin="miter"/>
<path d="M262.69 683.6H270.09" stroke="#a0c040" stroke-width="1.2" fill="none"/>
<path d="M335.6 557.7H42.9V740H335.6" stroke="#303030" stroke-width="1.8" fill="none" stroke-linecap="square"/>
<path d="M57.65 557.7v3.6M57.65 740v-3.6M87.47 557.7v3.6M87.47 740v-3.6M117.29 557.7v3.6M117.29 740v-3.6M147.11 557.7v3.6M147.11 740v-3.6M176.93 557.7v3.6M176.93 740v-3.6M206.75 557.7v3.6M206.75 740v-3.6M236.57 557.7v3.6M236.57 740v-3.6M266.39 557.7v3.6M266.39 740v-3.6M296.21 557.7v3.6M296.21 740v-3.6M326.03 557.7v3.6M326.03 740v-3.6M42.9 731.1h3.6M42.9 694.07h3.6M42.9 657.04h3.6M42.9 620.01h3.6M42.9 582.98h3.6" stroke="#303030" stroke-width="1.8" fill="none"/>
<text transform="translate(38.3 735.6) scale(0.96 1)" text-anchor="end" font-size="13.5" font-weight="bold">0.4</text>
<text transform="translate(38.3 698.57) scale(0.96 1)" text-anchor="end" font-size="13.5" font-weight="bold">0.5</text>
<text transform="translate(38.3 661.54) scale(0.96 1)" text-anchor="end" font-size="13.5" font-weight="bold">0.6</text>
<text transform="translate(38.3 624.51) scale(0.96 1)" text-anchor="end" font-size="13.5" font-weight="bold">0.7</text>
<text transform="translate(38.3 587.48) scale(0.96 1)" text-anchor="end" font-size="13.5" font-weight="bold">0.8</text>
<text x="191.84" y="552.3" text-anchor="middle" font-size="14" font-weight="bold">F17</text>
<text transform="translate(18.5 649.35) rotate(-90)" text-anchor="middle" font-size="14.4" font-weight="bold">Objective function</text>
<text transform="translate(63.75 755.4) rotate(-30)" text-anchor="end" font-size="13" font-weight="bold">MDBO</text>
<text transform="translate(93.57 755.4) rotate(-30)" text-anchor="end" font-size="13" font-weight="bold">DBO</text>
<text transform="translate(123.39 755.4) rotate(-30)" text-anchor="end" font-size="13" font-weight="bold">SCSO</text>
<text transform="translate(153.21 755.4) rotate(-30)" text-anchor="end" font-size="13" font-weight="bold">AVOA</text>
<text transform="translate(183.03 755.4) rotate(-30)" text-anchor="end" font-size="13" font-weight="bold">SCA</text>
<text transform="translate(212.85 755.4) rotate(-30)" text-anchor="end" font-size="13" font-weight="bold">HHO</text>
<text transform="translate(242.67 755.4) rotate(-30)" text-anchor="end" font-size="13" font-weight="bold">GWO</text>
<text transform="translate(272.49 755.4) rotate(-30)" text-anchor="end" font-size="13" font-weight="bold">LCA</text>
<text transform="translate(302.31 755.4) rotate(-30)" text-anchor="end" font-size="13" font-weight="bold">ZOA</text>
<text transform="translate(332.13 755.4) rotate(-30)" text-anchor="end" font-size="13" font-weight="bold">WOA</text>
<text x="191.84" y="793.3" text-anchor="middle" font-size="14" font-weight="bold">Method</text>
<path d="M397 557.7V740.3M427.76 557.7V740.3M458.52 557.7V740.3M489.28 557.7V740.3M520.04 557.7V740.3M550.8 557.7V740.3M581.56 557.7V740.3M612.32 557.7V740.3M643.08 557.7V740.3M673.84 557.7V740.3M382 720.7H685M382 693.12H685M382 665.54H685M382 637.96H685M382 610.38H685M382 582.8H685" stroke="#acacac" stroke-width="2" stroke-dasharray="1.1 1.35" fill="none"/>
<path d="M389.3 731.9H404.7" stroke="#454545" stroke-width="1.6" fill="none"/>
<path d="M425.16 731.9H430.36M427.76 729.3V734.5" stroke="#ff2020" stroke-width="1.0" fill="none"/>
<path d="M420.06 731.9H435.46" stroke="#454545" stroke-width="1.6" fill="none"/>
<path d="M455.92 731.9H461.12M458.52 729.3V734.5" stroke="#ff2020" stroke-width="1.0" fill="none"/>
<path d="M450.82 731.9H466.22" stroke="#454545" stroke-width="1.6" fill="none"/>
<path d="M486.68 731.9H491.88M489.28 729.3V734.5" stroke="#ff2020" stroke-width="1.0" fill="none"/>
<path d="M481.58 731.9H496.98" stroke="#454545" stroke-width="1.6" fill="none"/>
<path d="M517.44 731.9H522.64M520.04 729.3V734.5" stroke="#ff2020" stroke-width="1.0" fill="none"/>
<path d="M512.34 731.9H527.74" stroke="#454545" stroke-width="1.6" fill="none"/>
<path d="M548.2 731.9H553.4M550.8 729.3V734.5" stroke="#ff2020" stroke-width="1.0" fill="none"/>
<path d="M543.1 731.9H558.5" stroke="#454545" stroke-width="1.6" fill="none"/>
<path d="M578.96 731.9H584.16M581.56 729.3V734.5" stroke="#ff2020" stroke-width="1.0" fill="none"/>
<path d="M573.86 731.9H589.26" stroke="#454545" stroke-width="1.6" fill="none"/>
<path d="M640.48 731.9H645.68M643.08 729.3V734.5" stroke="#ff2020" stroke-width="1.0" fill="none"/>
<path d="M635.38 731.9H650.78" stroke="#454545" stroke-width="1.6" fill="none"/>
<path d="M671.24 731.9H676.44M673.84 729.3V734.5" stroke="#ff2020" stroke-width="1.0" fill="none"/>
<path d="M666.14 731.9H681.54" stroke="#454545" stroke-width="1.6" fill="none"/>
<path d="M612.32 569.8V566" stroke="#48e048" stroke-width="1.2" stroke-dasharray="6 3.7" fill="none"/>
<path d="M608.32 566H616.32" stroke="#48e048" stroke-width="1.2" fill="none"/>
<path d="M612.32 679.3V732" stroke="#48e048" stroke-width="1.2" stroke-dasharray="6 3.7" fill="none"/>
<path d="M608.32 732H616.32" stroke="#48e048" stroke-width="1.2" fill="none"/>
<path d="M604.62 679.3L604.62 646.4L608.87 612.6L604.62 578.4L604.62 569.8L620.02 569.8L620.02 578.4L615.77 612.6L620.02 646.4L620.02 679.3Z" fill="#f6bc95" fill-opacity="0.85" stroke="#111" stroke-width="1.2" stroke-linejoin="miter"/>
<path d="M608.87 612.6H615.77" stroke="#a0c040" stroke-width="1.2" fill="none"/>
<path d="M685 557.7H382V740.3H685" stroke="#303030" stroke-width="1.8" fill="none" stroke-linecap="square"/>
<path d="M397 557.7v3.6M397 740.3v-3.6M427.76 557.7v3.6M427.76 740.3v-3.6M458.52 557.7v3.6M458.52 740.3v-3.6M489.28 557.7v3.6M489.28 740.3v-3.6M520.04 557.7v3.6M520.04 740.3v-3.6M550.8 557.7v3.6M550.8 740.3v-3.6M581.56 557.7v3.6M581.56 740.3v-3.6M612.32 557.7v3.6M612.32 740.3v-3.6M643.08 557.7v3.6M643.08 740.3v-3.6M673.84 557.7v3.6M673.84 740.3v-3.6M382 720.7h3.6M382 693.12h3.6M382 665.54h3.6M382 637.96h3.6M382 610.38h3.6M382 582.8h3.6" stroke="#303030" stroke-width="1.8" fill="none"/>
<text transform="translate(377.4 725.2) scale(0.96 1)" text-anchor="end" font-size="13.5" font-weight="bold">5</text>
<text transform="translate(377.4 697.62) scale(0.96 1)" text-anchor="end" font-size="13.5" font-weight="bold">10</text>
<text transform="translate(377.4 670.04) scale(0.96 1)" text-anchor="end" font-size="13.5" font-weight="bold">15</text>
<text transform="translate(377.4 642.46) scale(0.96 1)" text-anchor="end" font-size="13.5" font-weight="bold">20</text>
<text transform="translate(377.4 614.88) scale(0.96 1)" text-anchor="end" font-size="13.5" font-weight="bold">25</text>
<text transform="translate(377.4 587.3) scale(0.96 1)" text-anchor="end" font-size="13.5" font-weight="bold">30</text>
<text x="535.42" y="552.3" text-anchor="middle" font-size="14" font-weight="bold">F18</text>
<text transform="translate(358.5 649.5) rotate(-90)" text-anchor="middle" font-size="14.4" font-weight="bold">Objective function</text>
<text transform="translate(403.1 755.7) rotate(-30)" text-anchor="end" font-size="13" font-weight="bold">MDBO</text>
<text transform="translate(433.86 755.7) rotate(-30)" text-anchor="end" font-size="13" font-weight="bold">DBO</text>
<text transform="translate(464.62 755.7) rotate(-30)" text-anchor="end" font-size="13" font-weight="bold">SCSO</text>
<text transform="translate(495.38 755.7) rotate(-30)" text-anchor="end" font-size="13" font-weight="bold">AVOA</text>
<text transform="translate(526.14 755.7) rotate(-30)" text-anchor="end" font-size="13" font-weight="bold">SCA</text>
<text transform="translate(556.9 755.7) rotate(-30)" text-anchor="end" font-size="13" font-weight="bold">HHO</text>
<text transform="translate(587.66 755.7) rotate(-30)" text-anchor="end" font-size="13" font-weight="bold">GWO</text>
<text transform="translate(618.42 755.7) rotate(-30)" text-anchor="end" font-size="13" font-weight="bold">LCA</text>
<text transform="translate(649.18 755.7) rotate(-30)" text-anchor="end" font-size="13" font-weight="bold">ZOA</text>
<text transform="translate(679.94 755.7) rotate(-30)" text-anchor="end" font-size="13" font-weight="bold">WOA</text>
<text x="535.42" y="793.3" text-anchor="middle" font-size="14" font-weight="bold">Method</text>
</svg></body></html>
